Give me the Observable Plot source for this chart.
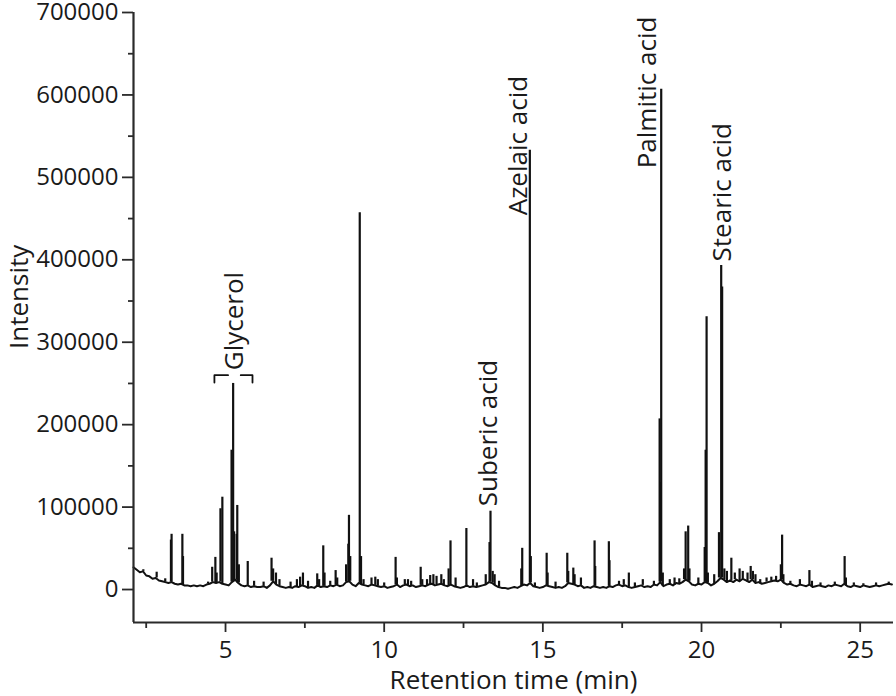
<!DOCTYPE html>
<html><head><meta charset="utf-8">
<script src="https://cdn.jsdelivr.net/npm/d3@7"></script>
<script src="https://cdn.jsdelivr.net/npm/@observablehq/plot@0.6"></script>
<style>
body{margin:0;background:#fff;}
svg{font-family:"Open Sans",sans-serif;}
</style>
</head><body><div id="chart"></div>
<script>
// ---- axes ----
const xDomain = [2.1, 26.05];
const yDomain = [-40000, 700000];
const xTicks = [5, 10, 15, 20, 25];
const xMinorTicks = [2.5, 7.5, 12.5, 17.5, 22.5];
const yTicks = [0, 100000, 200000, 300000, 400000, 500000, 600000, 700000];
const yMinorTicks = [50000, 150000, 250000, 350000, 450000, 550000, 650000];
const xTitle = "Retention time (min)";
const yTitle = "Intensity";
const yTitlePos = 355000;

// ---- baseline trace [time (min), intensity (thousands)] ----
const baseline = [
[2.1,27],[2.2,24],[2.3,21],[2.4,22],[2.5,17],[2.6,16],[2.7,13],[2.8,14],[2.9,11],[3.0,10],
[3.1,9],[3.2,8],[3.3,9],[3.4,7],[3.5,6],[3.6,7],[3.7,5],[3.8,5],[3.9,4],[4.0,5],
[4.1,4],[4.2,5],[4.3,4],[4.4,6],[4.5,7],[4.6,9],[4.7,8],[4.8,9],[4.9,7],[5.0,6],
[5.1,5],[5.2,9],[5.3,12],[5.4,8],[5.5,5],[5.6,4],[5.7,5],[5.8,3],[5.9,4],[6.0,3],
[6.1,3],[6.2,4],[6.3,2],[6.4,5],[6.5,10],[6.6,6],[6.7,4],[6.8,3],[6.9,2],[7.0,3],
[7.1,2],[7.2,4],[7.3,3],[7.4,5],[7.5,4],[7.6,2],[7.7,3],[7.8,2],[7.9,5],[8.0,3],
[8.1,4],[8.2,3],[8.3,5],[8.4,4],[8.5,6],[8.6,4],[8.7,5],[8.8,9],[8.9,10],[9.0,6],
[9.1,4],[9.2,8],[9.3,6],[9.4,5],[9.5,4],[9.6,6],[9.7,5],[9.8,4],[9.9,3],[10.0,4],
[10.1,2],[10.2,3],[10.3,4],[10.4,6],[10.5,3],[10.6,5],[10.7,6],[10.8,4],[10.9,5],[11.0,3],
[11.1,4],[11.2,5],[11.3,4],[11.4,6],[11.5,7],[11.6,5],[11.7,6],[11.8,7],[11.9,5],[12.0,4],
[12.1,6],[12.2,4],[12.3,3],[12.4,2],[12.5,3],[12.6,5],[12.7,3],[12.8,4],[12.9,3],[13.0,4],
[13.1,5],[13.2,6],[13.3,9],[13.4,8],[13.5,5],[13.6,3],[13.7,2],[13.8,2],[13.9,1],[14.0,2],
[14.1,3],[14.2,2],[14.3,4],[14.4,6],[14.5,5],[14.6,8],[14.7,4],[14.8,3],[14.9,2],[15.0,3],
[15.1,5],[15.2,4],[15.3,3],[15.4,2],[15.5,3],[15.6,2],[15.7,4],[15.8,8],[15.9,7],[16.0,6],
[16.1,4],[16.2,5],[16.3,2],[16.4,3],[16.5,2],[16.6,4],[16.7,3],[16.8,2],[16.9,3],[17.0,2],
[17.1,4],[17.2,3],[17.3,5],[17.4,6],[17.5,4],[17.6,5],[17.7,3],[17.8,2],[17.9,3],[18.0,4],
[18.1,5],[18.2,3],[18.3,4],[18.4,3],[18.5,6],[18.6,5],[18.7,9],[18.8,4],[18.9,6],[19.0,7],
[19.1,5],[19.2,8],[19.3,7],[19.4,9],[19.5,12],[19.6,10],[19.7,6],[19.8,5],[19.9,7],[20.0,6],
[20.1,9],[20.2,8],[20.3,5],[20.4,7],[20.5,10],[20.6,14],[20.7,12],[20.8,9],[20.9,11],[21.0,9],
[21.1,12],[21.2,10],[21.3,13],[21.4,11],[21.5,9],[21.6,12],[21.7,8],[21.8,9],[21.9,7],[22.0,8],
[22.1,9],[22.2,10],[22.3,11],[22.4,10],[22.5,12],[22.6,8],[22.7,6],[22.8,7],[22.9,5],[23.0,4],
[23.1,6],[23.2,5],[23.3,4],[23.4,6],[23.5,3],[23.6,4],[23.7,5],[23.8,4],[23.9,3],[24.0,5],
[24.1,4],[24.2,6],[24.3,5],[24.4,4],[24.5,7],[24.6,4],[24.7,3],[24.8,5],[24.9,4],[25.0,3],
[25.1,5],[25.2,4],[25.3,3],[25.4,4],[25.5,5],[25.6,4],[25.7,5],[25.8,6],[25.9,7],[26.0,6]
];

// ---- peaks [time (min), apex intensity (thousands)] ----
const peaks = [
[2.41,24],[2.83,21],[3.10,13],[3.28,60],[3.30,67],[3.64,67],[3.66,40],[4.45,9],[4.58,27],[4.68,39],
[4.72,20],[4.84,98],[4.90,112],[5.19,169],[5.24,250],[5.27,70],[5.35,67],[5.37,102],[5.42,30],[5.70,34],
[5.90,10],[6.20,9],[6.45,38],[6.50,25],[6.59,20],[6.70,12],[7.05,9],[7.25,12],[7.35,15],[7.44,20],
[7.60,10],[7.89,19],[7.95,12],[8.08,53],[8.12,20],[8.30,10],[8.47,23],[8.52,14],[8.80,30],[8.87,55],
[8.89,90],[8.93,40],[9.23,457],[9.27,40],[9.35,12],[9.60,14],[9.72,15],[9.80,12],[10.00,8],[10.36,39],
[10.40,14],[10.65,12],[10.75,12],[10.85,10],[11.15,27],[11.20,12],[11.35,12],[11.45,17],[11.55,18],[11.65,16],
[11.80,18],[11.88,12],[12.03,25],[12.09,59],[12.25,14],[12.59,74],[12.80,12],[12.92,8],[13.20,18],[13.32,57],
[13.35,95],[13.42,22],[13.48,18],[13.62,10],[14.32,25],[14.35,50],[14.59,533],[14.62,40],[14.75,8],[15.12,44],
[15.15,20],[15.40,9],[15.77,44],[15.80,22],[15.96,26],[16.00,18],[16.20,14],[16.63,59],[16.65,28],[17.08,58],
[17.10,35],[17.40,10],[17.55,12],[17.71,20],[17.90,8],[18.15,12],[18.50,10],[18.68,207],[18.70,130],[18.73,607],
[18.78,20],[19.00,12],[19.15,14],[19.30,13],[19.45,25],[19.50,70],[19.58,77],[19.62,25],[19.90,14],[20.10,51],
[20.13,169],[20.16,331],[20.20,20],[20.40,18],[20.55,69],[20.62,393],[20.65,367],[20.72,25],[20.80,22],[20.94,38],
[21.05,20],[21.20,25],[21.30,22],[21.45,20],[21.55,28],[21.62,22],[21.70,18],[21.85,12],[22.05,14],[22.20,15],
[22.35,16],[22.50,30],[22.54,66],[22.58,18],[22.80,10],[23.10,12],[23.40,23],[23.48,10],[23.75,8],[24.20,9],
[24.51,40],[24.55,14],[24.80,8],[25.10,7],[25.50,8],[25.90,9]
];

// ---- compound labels [name, time (min), intensity at text start] ----
const labelNames = ["Glycerol", "Suberic acid", "Azelaic acid", "Palmitic acid", "Stearic acid"];
const labelTimes = [5.28, 13.29, 14.23, 18.30, 20.66];
const labelValues = [266000, 101000, 454000, 511000, 398000];
const labels = labelNames.map((name, i) => ({name, t: labelTimes[i], v: labelValues[i]}));

// Glycerol bracket segments [time, intensity (thousands), segment]
const bracket = [
[4.65,251,"a"],[4.65,260,"a"],[5.08,260,"a"],
[5.48,260,"b"],[5.85,260,"b"],[5.85,251,"b"]
];

const bis = d3.bisector(d => d[0]).center;
const baseAt = t => baseline[bis(baseline, t)][1];

const ink = "#111";
const axisInk = "#2a2a2a";
const textInk = "#1a1a1a";

const chart = Plot.plot({
  width: 896,
  height: 696,
  marginLeft: 133,
  marginRight: 3,
  marginTop: 12,
  marginBottom: 74,
  style: {fontFamily: "'Open Sans', sans-serif", background: "#fff", color: "#222"},
  x: {domain: xDomain},
  y: {domain: yDomain},
  marks: [
    Plot.line(baseline, {x: d => d[0], y: d => d[1] * 1000, stroke: ink, strokeWidth: 2, strokeLinejoin: "round"}),
    Plot.ruleX(peaks, {x: d => d[0], y1: d => baseAt(d[0]) * 1000, y2: d => d[1] * 1000, stroke: ink, strokeWidth: 2.2}),
    Plot.line(bracket, {x: d => d[0], y: d => d[1] * 1000, z: d => d[2], stroke: ink, strokeWidth: 1.8}),
    Plot.text(labels, {x: "t", y: "v", text: "name", rotate: -90, textAnchor: "start", lineAnchor: "middle", fontSize: 26, fill: textInk}),
    Plot.ruleX([xDomain[0]], {stroke: axisInk, strokeWidth: 2.2}),
    Plot.ruleY([yDomain[0]], {stroke: axisInk, strokeWidth: 2.2}),
    Plot.axisY({ticks: yTicks, tickSize: 11, tickPadding: 4, tickFormat: d3.format("d"), fontSize: 24, label: null, stroke: axisInk, strokeWidth: 1.8, fill: textInk}),
    Plot.axisY({ticks: yMinorTicks, tickSize: 5, tickFormat: () => "", label: null, stroke: axisInk, strokeWidth: 1.8}),
    Plot.axisX({ticks: xTicks, tickSize: 10, tickPadding: 8, fontSize: 24, label: null, stroke: axisInk, strokeWidth: 1.8, fill: textInk}),
    Plot.axisX({ticks: xMinorTicks, tickSize: 6, tickFormat: () => "", label: null, stroke: axisInk, strokeWidth: 1.8}),
    Plot.text([xTitle], {text: d => d, frameAnchor: "bottom", dy: 58, textAnchor: "middle", lineAnchor: "middle", fontSize: 26, fill: textInk}),
    Plot.text([yTitle], {text: d => d, y: () => yTitlePos, frameAnchor: "left", dx: -114, rotate: -90, textAnchor: "middle", lineAnchor: "middle", fontSize: 26, fill: textInk})
  ]
});
document.getElementById("chart").appendChild(chart);
</script>
</body></html>
